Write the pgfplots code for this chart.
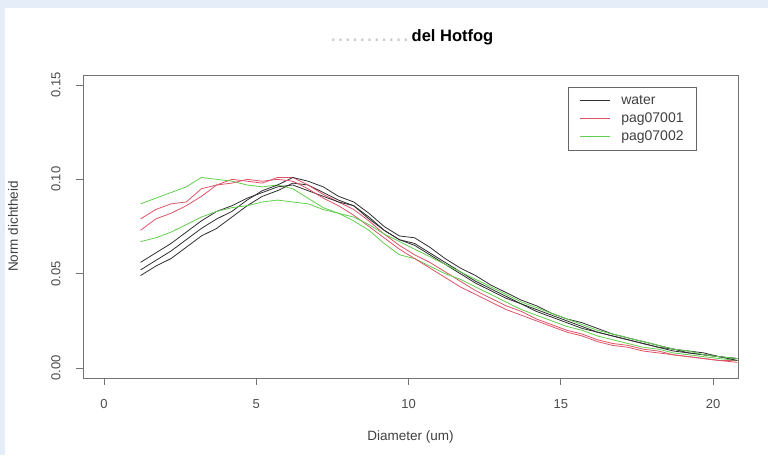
\documentclass[border=0pt]{standalone}
\usepackage{fontspec}
\setmainfont{Liberation Sans}
\usepackage{pgfplots}
\usepackage{pgfplotstable}
\pgfplotsset{compat=1.18}

\definecolor{wcol}{HTML}{303030}
\definecolor{rcol}{HTML}{DF536B}
\definecolor{gcol}{HTML}{61D04F}
\definecolor{bgblue}{HTML}{E4EDF8}

% water: three runs
\pgfplotstableread{
x a b c
1.2 0.049 0.052 0.056
1.7 0.054 0.057 0.061
2.2 0.058 0.062 0.066
2.7 0.064 0.068 0.072
3.2 0.070 0.074 0.078
3.7 0.074 0.079 0.083
4.2 0.080 0.083 0.086
4.7 0.086 0.089 0.090
5.2 0.091 0.094 0.093
5.7 0.094 0.097 0.096
6.2 0.098 0.101 0.097
6.7 0.097 0.099 0.094
7.2 0.093 0.096 0.091
7.7 0.089 0.091 0.088
8.2 0.086 0.088 0.086
8.7 0.079 0.082 0.080
9.2 0.073 0.075 0.073
9.7 0.068 0.070 0.068
10.2 0.066 0.069 0.065
10.7 0.061 0.064 0.060
11.2 0.056 0.058 0.055
11.7 0.051 0.053 0.050
12.2 0.046 0.049 0.045
12.7 0.042 0.044 0.041
13.2 0.038 0.040 0.037
13.7 0.034 0.036 0.034
14.2 0.031 0.033 0.030
14.7 0.028 0.029 0.027
15.2 0.025 0.026 0.024
15.7 0.022 0.024 0.021
16.2 0.019 0.021 0.019
16.7 0.017 0.018 0.017
17.2 0.015 0.016 0.015
17.7 0.013 0.014 0.013
18.2 0.011 0.012 0.011
18.7 0.010 0.010 0.009
19.2 0.008 0.009 0.008
19.7 0.007 0.008 0.007
20.2 0.006 0.006 0.006
20.8 0.005 0.005 0.004
}\water

% pag07001: two runs
\pgfplotstableread{
x a b
1.2 0.079 0.073
1.7 0.084 0.079
2.2 0.087 0.082
2.7 0.088 0.086
3.2 0.095 0.091
3.7 0.097 0.097
4.2 0.100 0.098
4.7 0.099 0.100
5.2 0.098 0.099
5.7 0.101 0.100
6.2 0.101 0.099
6.7 0.097 0.095
7.2 0.092 0.090
7.7 0.088 0.086
8.2 0.084 0.081
8.7 0.078 0.075
9.2 0.071 0.069
9.7 0.065 0.063
10.2 0.060 0.058
10.7 0.056 0.053
11.2 0.051 0.048
11.7 0.046 0.043
12.2 0.041 0.039
12.7 0.037 0.035
13.2 0.033 0.031
13.7 0.030 0.028
14.2 0.026 0.025
14.7 0.023 0.022
15.2 0.020 0.019
15.7 0.018 0.017
16.2 0.015 0.014
16.7 0.013 0.012
17.2 0.012 0.011
17.7 0.010 0.009
18.2 0.009 0.008
18.7 0.007 0.007
19.2 0.006 0.006
19.7 0.005 0.005
20.2 0.004 0.004
20.8 0.004 0.003
}\pagone

% pag07002: two runs
\pgfplotstableread{
x a b
1.2 0.087 0.067
1.7 0.090 0.069
2.2 0.093 0.072
2.7 0.096 0.076
3.2 0.101 0.080
3.7 0.100 0.083
4.2 0.099 0.085
4.7 0.097 0.086
5.2 0.096 0.088
5.7 0.097 0.089
6.2 0.095 0.088
6.7 0.090 0.087
7.2 0.085 0.084
7.7 0.082 0.082
8.2 0.078 0.080
8.7 0.073 0.076
9.2 0.066 0.071
9.7 0.060 0.067
10.2 0.058 0.063
10.7 0.054 0.059
11.2 0.050 0.055
11.7 0.047 0.051
12.2 0.043 0.047
12.7 0.039 0.043
13.2 0.035 0.039
13.7 0.031 0.035
14.2 0.028 0.032
14.7 0.025 0.029
15.2 0.022 0.026
15.7 0.020 0.023
16.2 0.017 0.020
16.7 0.015 0.018
17.2 0.013 0.016
17.7 0.011 0.014
18.2 0.010 0.012
18.7 0.008 0.010
19.2 0.007 0.009
19.7 0.006 0.007
20.2 0.005 0.006
20.8 0.004 0.005
}\pagtwo

\begin{document}
\begin{tikzpicture}[x=1pt,y=1pt]
\fill[bgblue] (0,0) rectangle (768,455);
\fill[white] (5,0) rectangle (768,447);
\begin{axis}[
  at={(83pt,77pt)}, anchor=south west,
  scale only axis, width=655pt, height=303pt,
  xmin=-0.69, xmax=20.82, ymin=-0.0053, ymax=0.1553,
  axis line style={black!55, line width=0.8pt},
  xtick={0,5,10,15,20}, ytick={0,0.05,0.1,0.15},
  xtick pos=bottom, ytick pos=left,
  tick align=outside, major tick length=7pt,
  tick style={black!55, line width=0.8pt},
  every tick label/.append style={font=\fontsize{13}{15}\selectfont, text=black!70},
  /pgf/number format/assume math mode=true,
  yticklabel style={/pgf/number format/fixed, /pgf/number format/fixed zerofill,
    /pgf/number format/precision=2},
  yticklabel style={xshift=-12pt, rotate=90, anchor=south},
  xticklabel style={yshift=-11pt},
  title={\textcolor{black!20}{\makebox[84pt]{\dotfill}}del Hotfog},
  title style={at={(axis description cs:0.5,1)}, anchor=center, yshift=32pt,
    font=\fontsize{16.5}{18}\selectfont\bfseries},
  xlabel={Diameter (um)},
  xlabel style={at={(axis description cs:0.5,0)}, anchor=center, yshift=-59pt,
    font=\fontsize{13.5}{15}\selectfont, text=black!75},
  ylabel={Norm dichtheid},
  ylabel style={at={(axis description cs:0,0.5)}, anchor=center, yshift=70pt,
    font=\fontsize{13.5}{15}\selectfont, text=black!75},
  legend style={at={(axis description cs:1,1)}, anchor=north east,
    xshift=-41pt, yshift=-12pt, draw=black!60, line width=0.8pt,
    font=\fontsize{14}{15}\selectfont, text=black!75,
    inner xsep=11pt, inner ysep=6pt, row sep=3pt,
    /tikz/every odd column/.append style={column sep=9pt}},
  legend cell align=left,
  legend image code/.code={\draw[#1, line width=1pt] (0pt,0pt) -- (30pt,0pt);},
  every axis plot/.append style={line width=0.8pt},
]
\addplot[wcol] table[x=x, y=a] {\water};
\addlegendentry{water}
\addplot[rcol] table[x=x, y=a] {\pagone};
\addlegendentry{pag07001}
\addplot[gcol] table[x=x, y=a] {\pagtwo};
\addlegendentry{pag07002}
\addplot[wcol, forget plot] table[x=x, y=b] {\water};
\addplot[wcol, forget plot] table[x=x, y=c] {\water};
\addplot[rcol, forget plot] table[x=x, y=b] {\pagone};
\addplot[gcol, forget plot] table[x=x, y=b] {\pagtwo};
\end{axis}
\end{tikzpicture}
\end{document}
